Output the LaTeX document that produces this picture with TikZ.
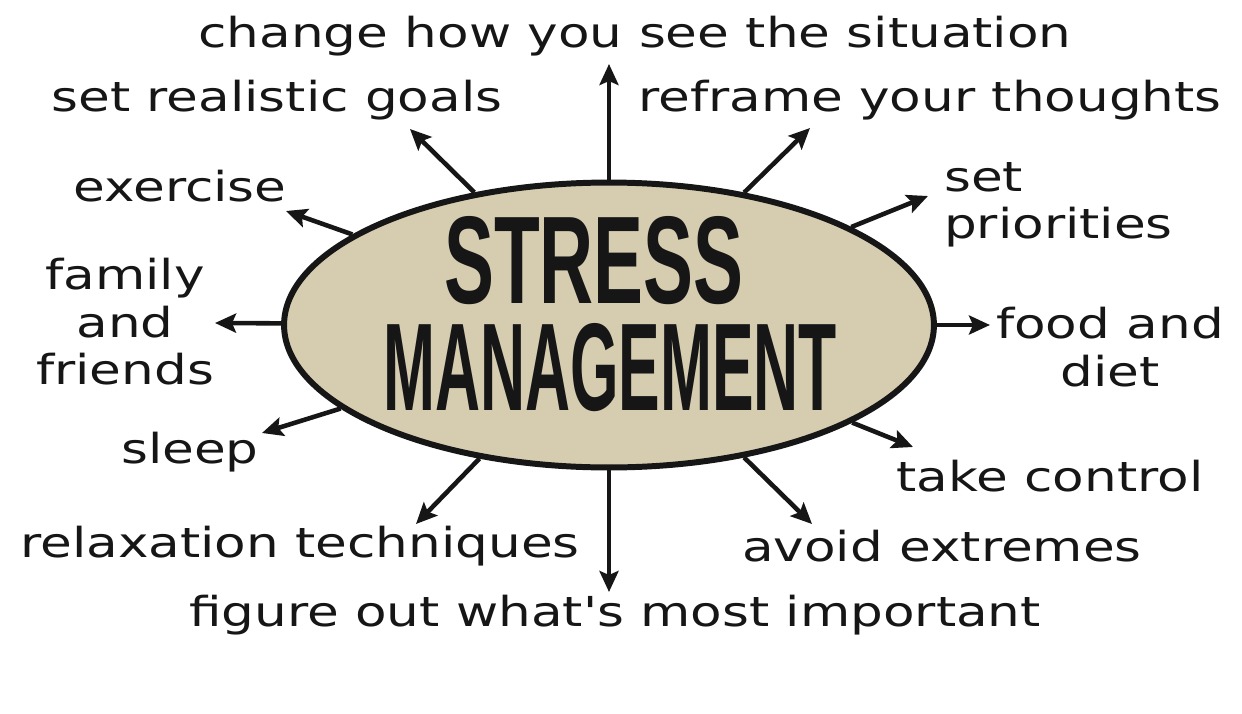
\documentclass[tikz,border=0pt]{standalone}
\usepackage{fontspec}
\usetikzlibrary{positioning,arrows.meta,shapes.geometric}
\newfontfamily\handfont[FakeStretch=1.25]{DejaVu Sans}
\newfontfamily\titlefont[FakeStretch=0.5]{Liberation Sans}
\newfontfamily\titlewide[FakeStretch=0.6]{Liberation Sans}
\definecolor{sand}{RGB}{214,205,176}
\definecolor{ink}{RGB}{22,22,22}

\begin{document}
\begin{tikzpicture}[
  x=0.02cm, y=-0.02cm,
  hub/.style={ellipse, draw=ink, line width=3.4pt, fill=sand,
              minimum width=13cm, minimum height=5.7cm, inner sep=0pt},
  title/.style={font=\bfseries\fontsize{71}{71}\selectfont, anchor=base,
                text=ink, inner sep=0pt, text height=51pt, text depth=0pt},
  tip/.style={font=\handfont\fontsize{23.5}{27}\selectfont, align=center,
              text=ink, inner sep=1pt},
  arr/.style={-{Stealth[length=4.2mm, width=3.8mm, inset=0.8mm]},
              line width=2.6pt, draw=ink}
]
  \useasboundingbox (0,0) rectangle (1242,714);

  \node[hub] (hub) at (609,325) {};
  \node[title] (stress) at (594,303) {\titlewide STRESS};
  \node[title] (mgmt)   at (610,410) {\titlefont MANAGEMENT};

  % arrow tips round the oval
  \coordinate (tN)   at (609,64);
  \coordinate (tS)   at (609,592);
  \coordinate (tNW)  at (410,129);
  \coordinate (tNE)  at (810,128);
  \coordinate (tWNW) at (286,211);
  \coordinate (tENE) at (928,196);
  \coordinate (tW)   at (215,323);
  \coordinate (tE)   at (990,325);
  \coordinate (tWSW) at (262,433);
  \coordinate (tESE) at (913,447);
  \coordinate (tSW)  at (416,524);
  \coordinate (tSE)  at (812,524);

  \draw[arr] (hub) -- (tN);
  \draw[arr] (hub) -- (tS);
  \draw[arr] (hub) -- (tNW);
  \draw[arr] (hub) -- (tNE);
  \draw[arr] (hub) -- (tWNW);
  \draw[arr] (hub) -- (tENE);
  \draw[arr] (hub) -- (tW);
  \draw[arr] (hub) -- (tE);
  \draw[arr] (hub) -- (tWSW);
  \draw[arr] (hub) -- (tESE);
  \draw[arr] (hub) -- (tSW);
  \draw[arr] (hub) -- (tSE);

  \node[tip] (change)   at (635,36)  {change how you see the situation};
  \node[tip] (goals)    at (277,100) {set realistic goals};
  \node[tip] (reframe)  at (930,100) {reframe your thoughts};
  \node[tip] (exercise) at (180,186) {exercise};
  \node[tip, align=left, anchor=west] (prio) at (942,205) {set\\priorities};
  \node[tip] (family)   at (125,322) {family\\and\\friends};
  \node[tip] (food)     at (1110,347) {food and\\diet};
  \node[tip] (sleep)    at (190,452) {sleep};
  \node[tip] (control)  at (1050,476) {take control};
  \node[tip] (relax)    at (300,546) {relaxation techniques};
  \node[tip] (avoid)    at (942,546) {avoid extremes};
  \node[tip] (figure)   at (615,615) {figure out what's most important};
\end{tikzpicture}
\end{document}
